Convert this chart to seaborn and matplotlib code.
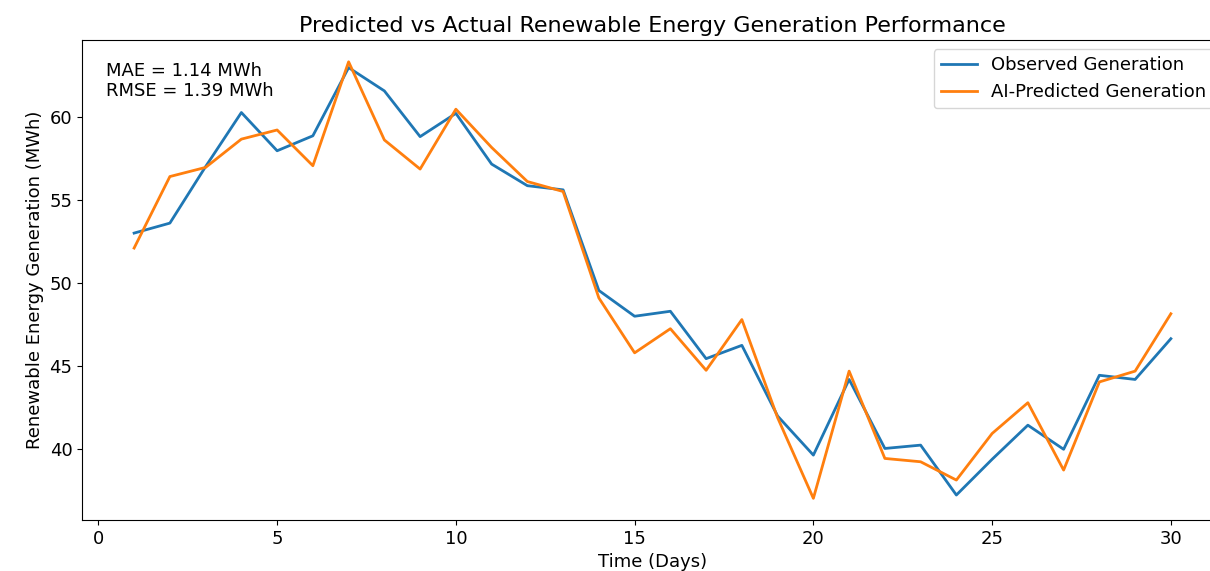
import seaborn as sns
import matplotlib.pyplot as plt
import pandas as pd
import numpy as np

# -----------------------------
# Data
# -----------------------------
days = list(range(1, 31))

observed = [53.0, 53.6, 57.0, 60.25, 57.95, 58.85, 62.95, 61.55, 58.8, 60.2,
            57.15, 55.85, 55.6, 49.55, 48.0, 48.3, 45.45, 46.25, 42.0, 39.65,
            44.2, 40.05, 40.25, 37.25, 39.4, 41.45, 40.0, 44.45, 44.2, 46.65]

predicted = [52.1, 56.4, 56.95, 58.65, 59.2, 57.05, 63.3, 58.6, 56.85, 60.45,
             58.15, 56.1, 55.5, 49.1, 45.8, 47.25, 44.75, 47.8, 41.9, 37.05,
             44.7, 39.45, 39.25, 38.15, 40.95, 42.8, 38.75, 44.05, 44.7, 48.15]

series_names = ["Observed Generation", "AI-Predicted Generation"]
mae_text = "MAE = 1.14 MWh\nRMSE = 1.39 MWh"

df = pd.DataFrame({
    "Day": days * 2,
    "Generation": observed + predicted,
    "Series": [series_names[0]] * len(days) + [series_names[1]] * len(days),
})

# -----------------------------
# Figure
# -----------------------------
plt.rcParams["font.family"] = ["DejaVu Sans"]
fig, ax = plt.subplots(figsize=(12.1, 5.71), dpi=100)
fig.subplots_adjust(left=0.068, right=1.0105, top=0.93, bottom=0.089)

sns.lineplot(
    data=df,
    x="Day",
    y="Generation",
    hue="Series",
    palette=["#1f77b4", "#ff7f0e"],
    linewidth=2,
    ax=ax,
)

ax.set_title("Predicted vs Actual Renewable Energy Generation Performance", fontsize=16)
ax.set_xlabel("Time (Days)", fontsize=13)
ax.set_ylabel("Renewable Energy Generation (MWh)", fontsize=13)
ax.tick_params(labelsize=13)
ax.set_xticks([0, 5, 10, 15, 20, 25, 30])

ax.text(0.021, 0.955, mae_text, transform=ax.transAxes,
        fontsize=13, va="top", ha="left")

sns.move_legend(ax, "upper right", title=None, fontsize=13)

plt.savefig("out.png", dpi=100)
plt.close()
